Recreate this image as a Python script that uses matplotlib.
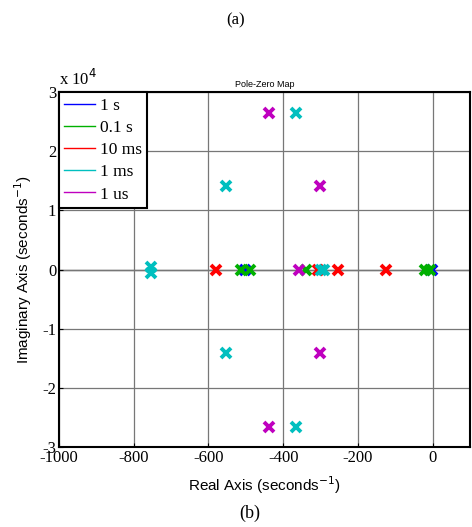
import numpy as np
import matplotlib.pyplot as plt

# pole locations (real in 1/s, imag in 1/s)
labels = ['1 s', '0.1 s', '10 ms', '1 ms', '1 us']
colors = ['#0000ff', '#00b000', '#ff0000', '#00bfbf', '#bf00bf']

re_1s = [-501, -1]
im_1s = [0, 0]
re_01s = [-513, -490, -338, -20, -8]
im_01s = [0, 0, 0, 0, 0]
re_10ms = [-580, -307, -253, -124]
im_10ms = [0, 0, 0, 0]
re_1ms = [-754, -754, -552, -552, -366, -366, -298, -292]
im_1ms = [500, -500, 14150, -14150, 26550, -26550, 0, 0]
re_1us = [-437, -437, -302, -302, -357]
im_1us = [26550, -26550, 14150, -14150, 0]

reals = [re_1s, re_01s, re_10ms, re_1ms, re_1us]
imags = [im_1s, im_01s, im_10ms, im_1ms, im_1us]

xticks = [-1000, -800, -600, -400, -200, 0]
yticks = [-3, -2, -1, 0, 1, 2, 3]

fig = plt.figure(figsize=(4.72, 5.27), dpi=100)
ax = fig.add_axes([0.125, 0.152, 0.871, 0.673])

ax.axhline(0, color='#555555', lw=1.0, zorder=1)
for i in range(len(labels)):
    ax.plot(np.array(reals[i]), np.array(imags[i]) / 1e4, linestyle='none',
            marker='x', markersize=6.5, mew=2.8, color=colors[i], zorder=3)
    ax.plot([], [], color=colors[i], lw=1, label=labels[i])

ax.set_xlim(-1000, 100)
ax.set_ylim(-3, 3)
ax.set_xticks(xticks)
ax.set_yticks(yticks)
ax.set_xticklabels([str(t) for t in xticks], family='Liberation Serif', fontsize=12)
ax.set_yticklabels([str(t) for t in yticks], family='Liberation Serif', fontsize=12)
ax.tick_params(direction='in', length=3, pad=2)
ax.grid(True, color='#777777', lw=0.9)
for s in ax.spines.values():
    s.set_linewidth(1.5)

ax.set_xlabel('Real Axis (seconds$^{-1}$)', family='Liberation Sans', fontsize=11, labelpad=6)
ax.set_ylabel('Imaginary Axis (seconds$^{-1}$)', family='Liberation Sans', fontsize=11, labelpad=6)
ax.set_title('Pole-Zero Map', family='Liberation Sans', fontsize=6.5, pad=4)
ax.text(-1000, 3.05, 'x 10$^4$', family='Liberation Serif', fontsize=12,
        ha='left', va='bottom')

leg = ax.legend(loc='upper left', borderaxespad=0, frameon=True, fancybox=False,
                prop={'family': 'Liberation Serif', 'size': 12.5},
                handlelength=1.8, handletextpad=0.25, labelspacing=0.35,
                borderpad=0.3)
leg.get_frame().set_edgecolor('black')
leg.get_frame().set_linewidth(1.5)
leg.get_frame().set_alpha(1)

fig.text(0.5, 0.953, '(a)', ha='center', family='Liberation Serif', fontsize=12)
fig.text(0.53, 0.018, '(b)', ha='center', family='Liberation Serif', fontsize=13)

plt.savefig('out.png')
plt.close()
